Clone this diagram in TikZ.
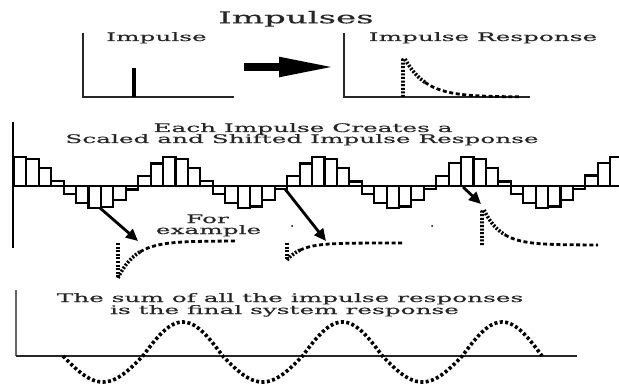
\documentclass[tikz,border=0pt]{standalone}
\usepackage{fontspec}
\setmainfont{DejaVu Serif}[FakeBold=0.2]
\usetikzlibrary{arrows.meta}
\newcommand{\xw}[1]{\scalebox{2.1}[1]{#1}}
\begin{document}
\begin{tikzpicture}[x=1pt,y=-1pt,
  txt/.style={inner sep=0pt, anchor=base, text=black!85, font=\fontsize{11.8}{14}\selectfont},
  axis/.style={line width=1.8pt, draw=black!85},
  bar/.style={draw=black, fill=white, line width=2.1pt},
  rise/.style={line width=3.6pt, dash pattern=on 2pt off 1.6pt},
  tail/.style={line width=2.8pt, dash pattern=on 4pt off 2.6pt},
  sine/.style={line width=3.6pt, dash pattern=on 3pt off 2.4pt},
  ptr/.style={line width=2.8pt, -{Triangle[length=12pt,width=11pt]}}
]
\useasboundingbox (0,0) rectangle (619,385);
\fill[white] (0,0) rectangle (619,385);
\begin{scope}
\clip (0,0) rectangle (619,385);

% ---------- top section ----------
\node[txt, font=\fontsize{16.2}{19}\selectfont] (title) at (296,23.3) {\xw{Impulses}};
\node[txt] (limp) at (156.5,41) {\xw{Impulse}};
\node[txt] (lresp) at (483,41) {\xw{Impulse Response}};

\coordinate (a1top) at (83,33);
\coordinate (a1org) at (83,97);
\coordinate (a1end) at (234,97);
\draw[axis] (a1top) -- (a1org) -- (a1end);
\coordinate (imptop) at (134,68);
\coordinate (impbot) at (134,97);
\draw[line width=3.2pt] (impbot) -- (imptop);

\coordinate (bigA) at (244,67);
\coordinate (bigB) at (336,67);
\draw[line width=8pt, -{Triangle[length=57pt,width=18pt]}] (bigA) -- (bigB);

\coordinate (a2top) at (344,33);
\coordinate (a2org) at (344,97);
\coordinate (a2end) at (530,97);
\draw[axis] (a2top) -- (a2org) -- (a2end);
\draw[rise] (403,97) -- (403,60) -- (405,59);
\draw[rise] plot[domain=405:425, samples=30] (\x, {97 - 38*exp(-(\x-405)/21)});
\draw[tail] plot[domain=425:520, samples=60] (\x, {97 - 38*exp(-(\x-405)/21)});

% ---------- middle section ----------
\coordinate (mtop) at (13,122);
\coordinate (mbot) at (13,248);
\draw[line width=2.2pt] (mtop) -- (mbot);
\node[txt] (m1) at (303,132) {\xw{Each Impulse Creates a}};
\node[txt] (m2) at (302,143) {\xw{Scaled and Shifted Impulse Response}};

\foreach \k in {0,...,48}{
  \pgfmathsetmacro{\xa}{14+12.42*\k}
  \pgfmathsetmacro{\xb}{\xa+12.42}
  \pgfmathsetmacro{\cv}{cos(2.41611*(\xa-17.79))}
  \pgfmathsetmacro{\vv}{\cv>0 ? 29*\cv : 22*\cv}
  \draw[bar] (\xa,186) rectangle (\xb,{186-\vv});
}

\node[txt] (for) at (207.5,223) {\xw{For}};
\node[txt] (ex) at (208.5,234) {\xw{example}};

\coordinate (p1s) at (100,208);
\coordinate (p1e) at (138,241);
\draw[ptr] (p1s) -- (p1e);
\coordinate (p2s) at (285,189);
\coordinate (p2e) at (326,241);
\draw[ptr] (p2s) -- (p2e);
\coordinate (p3s) at (463,187);
\coordinate (p3e) at (481,204);
\draw[ptr] (p3s) -- (p3e);

\fill (292,226) circle (1pt);
\fill (432,226) circle (1pt);

% response 1 (negative, large)
\draw[rise] (118,243) -- (118,278);
\draw[rise] plot[domain=118:140, samples=30] (\x, {241 + 37*exp(-(\x-118)/18)});
\draw[tail] plot[domain=140:235, samples=60] (\x, {241 + 37*exp(-(\x-118)/18)});
% response 2 (negative, small)
\draw[rise] (287,243) -- (287,260);
\draw[rise] plot[domain=287:300, samples=20] (\x, {243 + 17*exp(-(\x-287)/15)});
\draw[tail] plot[domain=300:404, samples=50] (\x, {243 + 17*exp(-(\x-287)/15)});
% response 3 (positive)
\draw[rise] (482,245) -- (482,212) -- (484,210);
\draw[rise] plot[domain=484:505, samples=30] (\x, {245 - 35*exp(-(\x-484)/17)});
\draw[tail] plot[domain=505:598, samples=60] (\x, {245 - 35*exp(-(\x-484)/17)});

% ---------- bottom section ----------
\coordinate (btop) at (16,290);
\coordinate (borg) at (16,356);
\coordinate (bend) at (577,356);
\draw[line width=2.2pt, draw=black!60] (btop) -- (borg);
\draw[line width=1.8pt, draw=black!85] (borg) -- (bend);
\node[txt] (b1) at (290,302) {\xw{The sum of all the impulse responses}};
\node[txt] (b2) at (284.5,314) {\xw{is the final system response}};
\draw[sine] plot[domain=63:542, samples=240] (\x, {356 + (sin(2.25423*(\x-63)) > 0 ? 26 : 34)*sin(2.25423*(\x-63))});
\end{scope}
\end{tikzpicture}
\end{document}
